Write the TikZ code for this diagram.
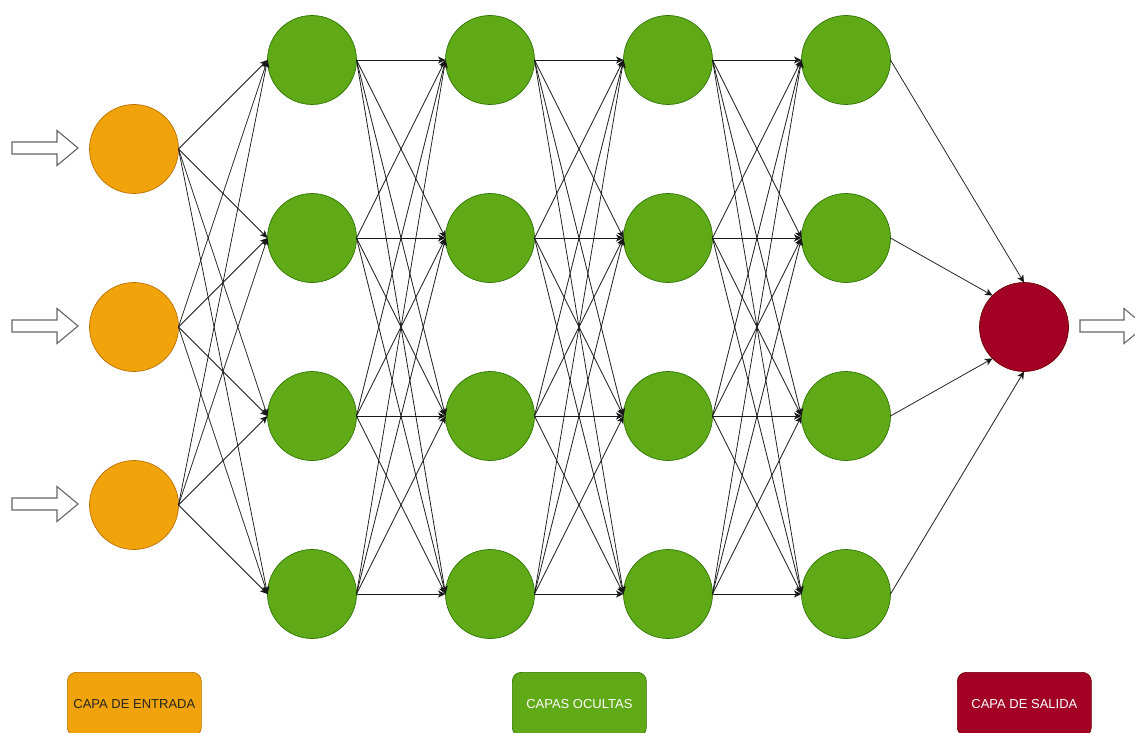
\documentclass[tikz,border=0pt]{standalone}
\usepackage{fontspec}
\setmainfont{Liberation Sans}
\definecolor{entradafill}{HTML}{F0A30A}
\definecolor{entradaline}{HTML}{BD7000}
\definecolor{ocultafill}{HTML}{60A917}
\definecolor{ocultaline}{HTML}{2D7600}
\definecolor{salidafill}{HTML}{A20025}
\definecolor{salidaline}{HTML}{6F0000}
\definecolor{flechagris}{HTML}{666666}
\usetikzlibrary{arrows.meta, positioning}

\begin{document}
\begin{tikzpicture}[x=1pt, y=-1pt,
    neuron/.style={circle, minimum size=89pt, inner sep=0pt, outer sep=0pt, line width=0.7pt},
    entrada/.style={neuron, fill=entradafill, draw=entradaline},
    oculta/.style={neuron, fill=ocultafill, draw=ocultaline},
    salida/.style={neuron, fill=salidafill, draw=salidaline},
    conexion/.style={line width=0.75pt, black!90, -{Stealth[length=7.5pt, width=7pt, inset=2pt]}},
    bloque/.style={draw=flechagris, fill=white, line width=1.1pt, line join=miter},
    leyenda/.style={rounded corners=9pt, line width=0.7pt, minimum width=134pt,
                    minimum height=64pt, anchor=north west, inner sep=0pt,
                    font=\fontsize{13}{15}\selectfont}]
    \useasboundingbox (0, 0) rectangle (1135, 733);
    \clip (0, 0) rectangle (1135, 733);

    % Input layer
    \node[entrada] (in1) at (134, 149) {};
    \node[entrada] (in2) at (134, 327) {};
    \node[entrada] (in3) at (134, 505) {};

    % Hidden layers
    \foreach \capa/\x in {1/312, 2/490, 3/668, 4/846} {
        \foreach \fila/\y in {1/60, 2/238, 3/416, 4/594} {
            \node[oculta] (h\capa-\fila) at (\x, \y) {};
        }
    }

    % Output layer
    \node[salida] (out) at (1024, 327) {};

    % Input -> first hidden layer
    \foreach \i in {1, 2, 3} {
        \foreach \j in {1, 2, 3, 4} {
            \draw[conexion] (in\i.east) -- (h1-\j.west);
        }
    }

    % Hidden -> hidden
    \foreach \capa/\sig in {1/2, 2/3, 3/4} {
        \foreach \i in {1, 2, 3, 4} {
            \foreach \j in {1, 2, 3, 4} {
                \draw[conexion] (h\capa-\i.east) -- (h\sig-\j.west);
            }
        }
    }

    % Last hidden layer -> output
    \draw[conexion] (h4-1.east) -- (out.north);
    \draw[conexion] (h4-2.east) -- (out.north west);
    \draw[conexion] (h4-3.east) -- (out.south west);
    \draw[conexion] (h4-4.east) -- (out.south);

    % Block arrows in and out
    \foreach \y in {148, 326, 504} {
        \draw[bloque] (12, \y-6) -- (57, \y-6) -- (57, \y-17.5) -- (78, \y)
            -- (57, \y+17.5) -- (57, \y+6) -- (12, \y+6) -- cycle;
    }
    \draw[bloque] (1080, 320) -- (1124, 320) -- (1124, 308.5) -- (1145, 326)
        -- (1124, 343.5) -- (1124, 332) -- (1080, 332) -- cycle;

    % Legend
    \node[leyenda, fill=entradafill, draw=entradaline, text=black!85] (leyEntrada)
        at (67, 672) {CAPA DE ENTRADA};
    \node[leyenda, fill=ocultafill, draw=ocultaline, text=white] (leyOcultas)
        at (512, 672) {CAPAS OCULTAS};
    \node[leyenda, fill=salidafill, draw=salidaline, text=white] (leySalida)
        at (957, 672) {CAPA DE SALIDA};
\end{tikzpicture}
\end{document}
